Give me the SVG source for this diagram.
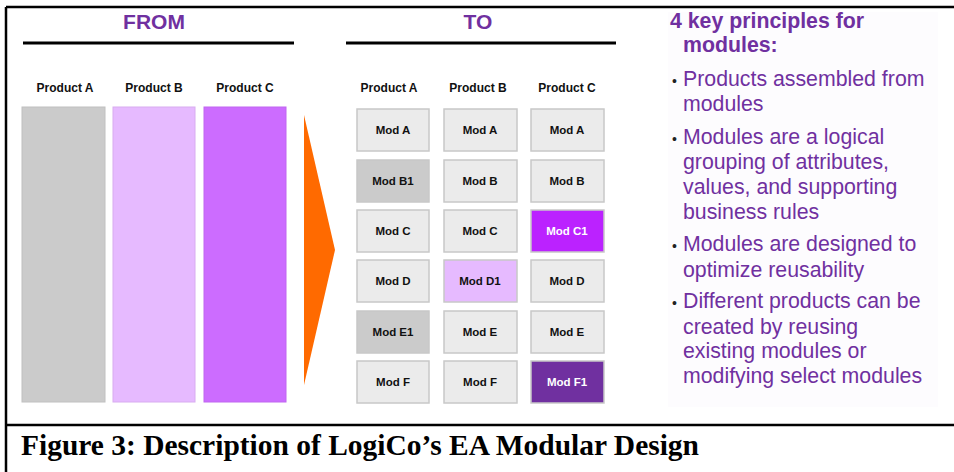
<svg xmlns="http://www.w3.org/2000/svg" width="954" height="472" viewBox="0 0 954 472">
<style>
.hdr{font-family:"Liberation Sans",Arial,sans-serif;font-weight:bold;font-size:21px;fill:#7030A0;text-anchor:middle}
.prod{font-family:"Liberation Sans",Arial,sans-serif;font-weight:bold;font-size:12px;fill:#111;text-anchor:middle}
.mod{font-family:"Liberation Sans",Arial,sans-serif;font-weight:bold;font-size:11.5px;fill:#111;text-anchor:middle}
.box{fill:#ebebeb;stroke:#c8c8c8;stroke-width:1.5}
.rt{font-family:"Liberation Sans",Arial,sans-serif;font-size:21.3px;fill:#7030A0}
.bul{font-family:"Liberation Sans",Arial,sans-serif;font-size:14px;fill:#222}
</style>
<rect width="954" height="472" fill="#fff"/>
<g id="frame" fill="none" stroke="#000">
<line x1="6" y1="7" x2="954" y2="7" stroke-width="2.5"/>
<line x1="6" y1="7" x2="6" y2="472" stroke-width="2.5"/>
<line x1="6" y1="425" x2="954" y2="425" stroke-width="2.5"/>
</g>
<g id="from-header">
<text class="hdr" x="154" y="29">FROM</text>
<line x1="23" y1="43" x2="294" y2="43" stroke="#000" stroke-width="3"/>
</g>
<g id="to-header">
<text class="hdr" x="478" y="29">TO</text>
<line x1="346" y1="43" x2="616" y2="43" stroke="#000" stroke-width="3"/>
</g>
<g id="from-products">
<text class="prod" x="65" y="92">Product A</text>
<text class="prod" x="154" y="92">Product B</text>
<text class="prod" x="245" y="92">Product C</text>
<rect x="22" y="107" width="83" height="295" fill="#cbcbcb" stroke="#c0c0c0"/>
<rect x="113" y="107" width="82" height="295" fill="#e6baff" stroke="#d8acf0"/>
<rect x="204" y="107" width="82" height="295" fill="#cc6cff" stroke="#c066f0"/>
</g>
<g id="arrow">
<polygon points="304,115 335,250 304,385" fill="#ff6a00"/>
</g>
<g id="to-products">
<text class="prod" x="389" y="92">Product A</text>
<text class="prod" x="478" y="92">Product B</text>
<text class="prod" x="567" y="92">Product C</text>
</g>
<g id="col-a">
<rect class="box" x="357" y="109" width="72" height="42"/><text class="mod" x="393" y="134">Mod A</text>
<rect class="box" x="357" y="160" width="72" height="42" style="fill:#cbcbcb"/><text class="mod" x="393" y="185">Mod B1</text>
<rect class="box" x="357" y="210" width="72" height="42"/><text class="mod" x="393" y="235">Mod C</text>
<rect class="box" x="357" y="260" width="72" height="42"/><text class="mod" x="393" y="285">Mod D</text>
<rect class="box" x="357" y="311" width="72" height="42" style="fill:#cbcbcb"/><text class="mod" x="393" y="336">Mod E1</text>
<rect class="box" x="357" y="361" width="72" height="42"/><text class="mod" x="393" y="386">Mod F</text>
</g>
<g id="col-b">
<rect class="box" x="444" y="109" width="73" height="42"/><text class="mod" x="480" y="134">Mod A</text>
<rect class="box" x="444" y="160" width="73" height="42"/><text class="mod" x="480" y="185">Mod B</text>
<rect class="box" x="444" y="210" width="73" height="42"/><text class="mod" x="480" y="235">Mod C</text>
<rect class="box" x="444" y="260" width="73" height="42" style="fill:#e6baff"/><text class="mod" x="480" y="285">Mod D1</text>
<rect class="box" x="444" y="311" width="73" height="42"/><text class="mod" x="480" y="336">Mod E</text>
<rect class="box" x="444" y="361" width="73" height="42"/><text class="mod" x="480" y="386">Mod F</text>
</g>
<g id="col-c">
<rect class="box" x="531" y="109" width="73" height="42"/><text class="mod" x="567" y="134">Mod A</text>
<rect class="box" x="531" y="160" width="73" height="42"/><text class="mod" x="567" y="185">Mod B</text>
<rect class="box" x="531" y="210" width="73" height="42" style="fill:#bb22ff"/><text class="mod" x="567" y="235" style="fill:#fff">Mod C1</text>
<rect class="box" x="531" y="260" width="73" height="42"/><text class="mod" x="567" y="285">Mod D</text>
<rect class="box" x="531" y="311" width="73" height="42"/><text class="mod" x="567" y="336">Mod E</text>
<rect class="box" x="531" y="361" width="73" height="42" style="fill:#7030a0"/><text class="mod" x="567" y="386" style="fill:#fff">Mod F1</text>
</g>
<g id="principles">
<rect x="668" y="12" width="270" height="395" fill="#fdfcfe"/>
<text class="rt" x="670" y="28" font-weight="bold">4 key principles for</text>
<text class="rt" x="683" y="52" font-weight="bold">modules:</text>
<text class="bul" x="672" y="86">•</text>
<text class="rt" x="683" y="86">Products assembled from</text>
<text class="rt" x="683" y="111">modules</text>
<text class="bul" x="672" y="144">•</text>
<text class="rt" x="683" y="144">Modules are a logical</text>
<text class="rt" x="683" y="169">grouping of attributes,</text>
<text class="rt" x="683" y="194">values, and supporting</text>
<text class="rt" x="683" y="219">business rules</text>
<text class="bul" x="672" y="251">•</text>
<text class="rt" x="683" y="251">Modules are designed to</text>
<text class="rt" x="683" y="277">optimize reusability</text>
<text class="bul" x="672" y="308">•</text>
<text class="rt" x="683" y="308">Different products can be</text>
<text class="rt" x="683" y="334">created by reusing</text>
<text class="rt" x="683" y="358">existing modules or</text>
<text class="rt" x="683" y="383">modifying select modules</text>
</g>
<g id="caption">
<text x="21" y="455" font-family="'Liberation Serif','Times New Roman',serif" font-weight="bold" font-size="29" textLength="678" lengthAdjust="spacingAndGlyphs" fill="#000">Figure 3: Description of LogiCo’s EA Modular Design</text>
</g>
</svg>
